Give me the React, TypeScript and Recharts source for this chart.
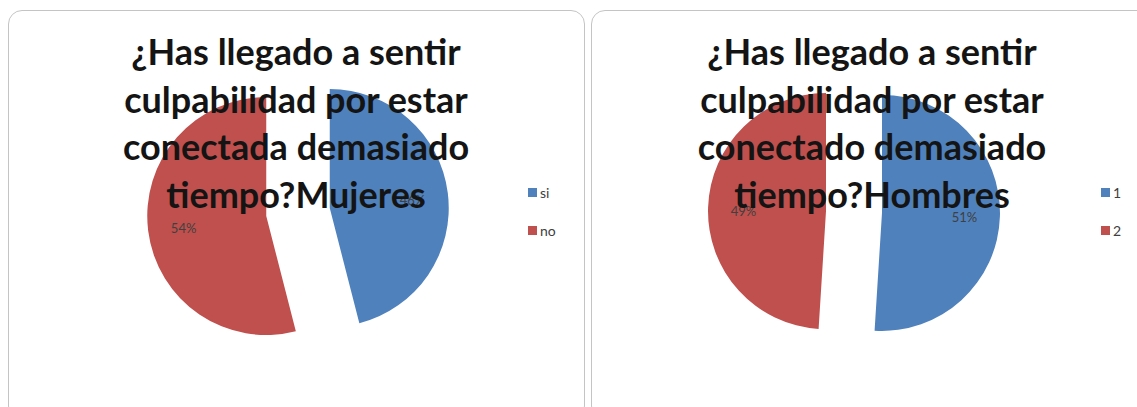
import { PieChart, Pie, Cell, Legend } from "recharts";

// datos
const womenCategories = ["si", "no"];
const womenValues = [46, 54];
const menCategories = ["1", "2"];
const menValues = [51, 49];

const womenTitle = ["¿Has llegado a sentir", "culpabilidad por estar", "conectada demasiado", "tiempo?Mujeres"];
const menTitle = ["¿Has llegado a sentir", "culpabilidad por estar", "conectado demasiado", "tiempo?Hombres"];

const COLORS = ["#4f81bd", "#c0504d"];
const FONT = "Lato, 'Open Sans', sans-serif";
const RAD = Math.PI / 180;

type PanelProps = {
  left: number;
  width: number;
  categories: string[];
  values: number[];
  title: string[];
  cx: number;
  cy: number;
  radius: number;
  explode: number;
  titleX: number;
  legendX: number;
};

function midAngles(values: number[]): number[] {
  const total = values.reduce((a, b) => a + b, 0);
  let acc = 0;
  return values.map((v) => {
    const mid = 90 - (360 * (acc + v / 2)) / total;
    acc += v;
    return mid;
  });
}

function makeLabel(k: number) {
  return (props: any) => {
    if (props.index !== k) return null;
    const rr = props.outerRadius * 0.7;
    const x = props.cx + rr * Math.cos(-props.midAngle * RAD);
    const y = props.cy + rr * Math.sin(-props.midAngle * RAD) + 2;
    return (
      <text
        x={x}
        y={y}
        textAnchor="middle"
        dominantBaseline="central"
        fill="#404040"
        fontSize={13}
        fontFamily={FONT}
      >
        {`${Math.round(props.percent * 100)}%`}
      </text>
    );
  };
}

function PiePanel(p: PanelProps) {
  const data = p.categories.map((name, i) => ({ name, value: p.values[i] }));
  const mids = midAngles(p.values);
  const height = 410;

  return (
    <div
      style={{
        position: "absolute",
        left: p.left,
        top: 10,
        width: p.width,
        height,
        border: "1.5px solid #c4c4c4",
        borderRadius: 14,
        background: "#fff",
        boxSizing: "border-box",
        overflow: "hidden",
      }}
    >
      <PieChart width={p.width} height={height} margin={{ top: 0, right: 0, bottom: 0, left: 0 }}>
        {data.map((_, k) => (
          <Pie
            key={k}
            data={data}
            dataKey="value"
            nameKey="name"
            cx={p.cx + p.explode * Math.cos(mids[k] * RAD)}
            cy={p.cy - p.explode * Math.sin(mids[k] * RAD)}
            outerRadius={p.radius}
            startAngle={90}
            endAngle={-270}
            stroke="none"
            labelLine={false}
            label={makeLabel(k)}
            legendType="none"
            isAnimationActive={false}
          >
            {data.map((_, i) => (
              <Cell key={i} fill={COLORS[i]} fillOpacity={i === k ? 1 : 0} />
            ))}
          </Pie>
        ))}
        <Legend
          layout="vertical"
          align="right"
          verticalAlign="middle"
          wrapperStyle={{ left: p.legendX, top: 162, width: 60 }}
          content={() => (
            <div style={{ fontFamily: FONT, fontSize: 14, color: "#404040" }}>
              {p.categories.map((c, i) => (
                <div key={c} style={{ display: "flex", alignItems: "center", height: 38 }}>
                  <span
                    style={{
                      display: "inline-block",
                      width: 9,
                      height: 9,
                      background: COLORS[i],
                      marginRight: 3,
                    }}
                  />
                  <span>{c}</span>
                </div>
              ))}
            </div>
          )}
        />
      </PieChart>
      <div
        style={{
          position: "absolute",
          left: p.titleX - 220,
          top: 17,
          width: 440,
          textAlign: "center",
          fontFamily: FONT,
          fontWeight: 700,
          fontSize: 36,
          lineHeight: "47.5px",
          color: "#141414",
          pointerEvents: "none",
        }}
      >
        {p.title.map((line) => (
          <div key={line}>{line}</div>
        ))}
      </div>
    </div>
  );
}

export default function App() {
  return (
    <div
      style={{
        position: "fixed",
        left: 0,
        top: 0,
        width: 1137,
        height: 407,
        overflow: "hidden",
        background: "#fff",
      }}
    >
      <PiePanel
        left={8}
        width={577}
        categories={womenCategories}
        values={womenValues}
        title={womenTitle}
        cx={289}
        cy={201}
        radius={119}
        explode={32}
        titleX={287}
        legendX={519}
      />
      <PiePanel
        left={591}
        width={560}
        categories={menCategories}
        values={menValues}
        title={menTitle}
        cx={262}
        cy={201}
        radius={118}
        explode={28}
        titleX={280}
        legendX={509}
      />
    </div>
  );
}
